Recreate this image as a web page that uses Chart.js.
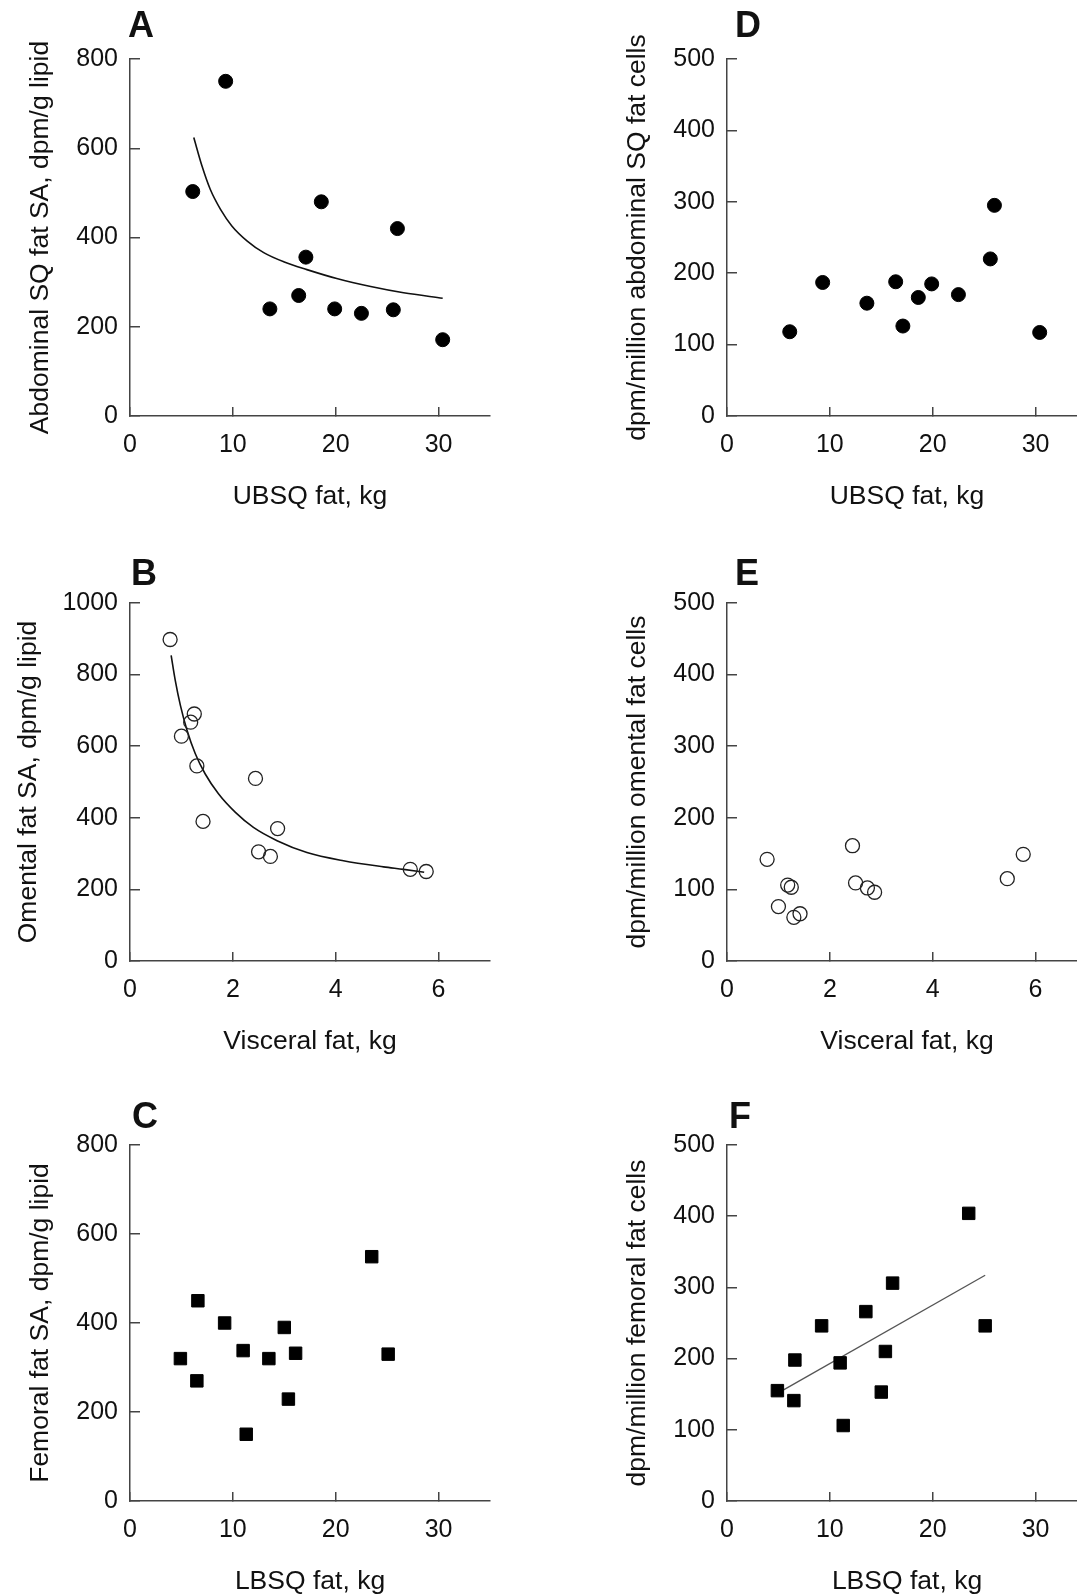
<!DOCTYPE html>
<html>
<head>
<meta charset="utf-8">
<title>Fat specific activity vs depot mass</title>
<script src="https://cdn.jsdelivr.net/npm/chart.js@4.4.1/dist/chart.umd.min.js"></script>
<style>
  html, body { margin: 0; padding: 0; background: #fff; overflow: hidden; }
  #fig { position: relative; width: 1077px; height: 1595px; overflow: hidden; }
  #fig canvas { position: absolute; }
  .letter {
    position: absolute;
    font: bold 36px "Liberation Sans", Arial, sans-serif;
    line-height: 36px;
    color: #111;
  }
</style>
</head>
<body>
<div id="fig"></div>
<script>
(function() {
    'use strict';

    // upper body SQ fat (A, D)
    var ubsqFat = [6.1, 9.3, 13.6, 16.4, 17.1, 18.6, 19.9, 22.5, 25.6, 26.0, 30.4];
    var abdominalSA = [503, 750, 240, 270, 356, 480, 240, 230, 238, 420, 171];
    var abdominalCells = [118, 187, 158, 188, 126, 166, 185, 170, 220, 295, 117];
    var abdominalFitX = [6.2, 7.0, 7.8, 8.8, 9.9, 11.4, 13.0, 15.0, 17.2, 20.1, 23.4, 26.6, 30.4];
    var abdominalFitY = [624, 560, 508, 463, 426, 392, 366, 345, 328, 308, 290, 276, 264];

    // visceral fat (B, E)
    var visceralFat = [0.78, 1.0, 1.18, 1.25, 1.3, 1.42, 2.44, 2.5, 2.73, 2.87, 5.45, 5.76];
    var omentalSA = [898, 628, 667, 690, 545, 390, 510, 305, 292, 370, 256, 250];
    var omentalCells = [142, 76, 106, 103, 61, 66, 161, 109, 102, 96, 115, 149];
    var omentalFitX = [0.8, 0.88, 0.98, 1.11, 1.27, 1.46, 1.72, 2.05, 2.4, 2.86, 3.44, 4.15, 4.93, 5.32, 5.72];
    var omentalFitY = [854, 784, 714, 644, 579, 523, 467, 415, 373, 336, 303, 280, 263, 256, 248];

    // lower body SQ fat (C, F)
    var lbsqFat = [4.9, 6.5, 6.6, 9.2, 11.0, 11.3, 13.5, 15.0, 15.4, 16.1, 23.5, 25.1];
    var femoralSA = [320, 270, 450, 400, 338, 150, 320, 390, 229, 332, 549, 330];
    var femoralCells = [155, 141, 198, 246, 194, 106, 266, 153, 210, 306, 404, 246];
    var femoralFitX = [5.5, 25.1];
    var femoralFitY = [156, 317];

    var INK = '#111';
    var AXIS = '#444';
    var FONT = '"Liberation Sans", Arial, sans-serif';

    // right column runs past the page edge, like the cropped original
    var columns = [
        { left: 0, width: 540, axisWidth: 130, padRight: 50 },
        { left: 540, width: 562, axisWidth: 187, padRight: 15 }
    ];

    var markers = {
        filled: { pointStyle: 'circle', pointRadius: 7, backgroundColor: '#000', borderColor: '#000', borderWidth: 1 },
        open: { pointStyle: 'circle', pointRadius: 7, backgroundColor: 'rgba(0,0,0,0)', borderColor: '#222', borderWidth: 1.3 },
        square: { pointStyle: 'rect', pointRadius: 8.8, backgroundColor: '#000', borderColor: '#000', borderWidth: 1 }
    };

    var panels = [
        { letter: 'A', col: 0, top: 59, bottom: 415.5, letterLeft: 128, letterTop: 7,
          xs: ubsqFat, ys: abdominalSA, fitX: abdominalFitX, fitY: abdominalFitY, fitStyle: 'curve',
          xMax: 35, xStep: 10, yMax: 800, yStep: 200, marker: 'filled', titlePad: 25,
          xTitle: 'UBSQ fat, kg', yTitle: 'Abdominal SQ fat SA, dpm/g lipid' },
        { letter: 'B', col: 0, top: 603, bottom: 960.5, letterLeft: 131, letterTop: 555,
          xs: visceralFat, ys: omentalSA, fitX: omentalFitX, fitY: omentalFitY, fitStyle: 'curve',
          xMax: 7, xStep: 2, yMax: 1000, yStep: 200, marker: 'open', titlePad: 13,
          xTitle: 'Visceral fat, kg', yTitle: 'Omental fat SA, dpm/g lipid' },
        { letter: 'C', col: 0, top: 1145, bottom: 1501, letterLeft: 132, letterTop: 1098,
          xs: lbsqFat, ys: femoralSA, fitX: null, fitY: null,
          xMax: 35, xStep: 10, yMax: 800, yStep: 200, marker: 'square', titlePad: 25,
          xTitle: 'LBSQ fat, kg', yTitle: 'Femoral fat SA, dpm/g lipid' },
        { letter: 'D', col: 1, top: 59, bottom: 415.5, letterLeft: 735, letterTop: 7,
          xs: ubsqFat, ys: abdominalCells, fitX: null, fitY: null,
          xMax: 35, xStep: 10, yMax: 500, yStep: 100, marker: 'filled', titlePad: 82,
          xTitle: 'UBSQ fat, kg', yTitle: 'dpm/million abdominal SQ fat cells' },
        { letter: 'E', col: 1, top: 603, bottom: 960.5, letterLeft: 735, letterTop: 555,
          xs: visceralFat, ys: omentalCells, fitX: null, fitY: null,
          xMax: 7, xStep: 2, yMax: 500, yStep: 100, marker: 'open', titlePad: 82,
          xTitle: 'Visceral fat, kg', yTitle: 'dpm/million omental fat cells' },
        { letter: 'F', col: 1, top: 1145, bottom: 1501, letterLeft: 729, letterTop: 1098,
          xs: lbsqFat, ys: femoralCells, fitX: femoralFitX, fitY: femoralFitY, fitStyle: 'straight',
          xMax: 35, xStep: 10, yMax: 500, yStep: 100, marker: 'square', titlePad: 82,
          xTitle: 'LBSQ fat, kg', yTitle: 'dpm/million femoral fat cells' }
    ];

    Chart.defaults.font.family = FONT;
    Chart.defaults.color = INK;

    var fig = document.getElementById('fig');
    panels.forEach(drawPanel);

    function pairs(xs, ys) {
        return xs.map(function(x, i) {
            return { x: x, y: ys[i] };
        });
    }

    function plain(value) {
        return String(value);
    }

    function drawPanel(p) {
        var col = columns[p.col];
        var padTop = 60;
        var xAxisHeight = 100;
        var canvasTop = p.top - padTop;
        var height = Math.round(p.bottom - p.top) + padTop + xAxisHeight;

        var canvas = document.createElement('canvas');
        canvas.width = col.width;
        canvas.height = height;
        canvas.style.left = col.left + 'px';
        canvas.style.top = canvasTop + 'px';
        canvas.style.width = col.width + 'px';
        canvas.style.height = height + 'px';
        fig.appendChild(canvas);

        var label = document.createElement('div');
        label.className = 'letter';
        label.textContent = p.letter;
        label.style.left = p.letterLeft + 'px';
        label.style.top = p.letterTop + 'px';
        fig.appendChild(label);

        var m = markers[p.marker];
        var datasets = [{
            data: pairs(p.xs, p.ys),
            pointStyle: m.pointStyle,
            pointRadius: m.pointRadius,
            pointBackgroundColor: m.backgroundColor,
            pointBorderColor: m.borderColor,
            pointBorderWidth: m.borderWidth,
            showLine: false
        }];

        if (p.fitX) {
            var curve = p.fitStyle === 'curve';
            datasets.push({
                data: pairs(p.fitX, p.fitY),
                showLine: true,
                pointRadius: 0,
                borderColor: curve ? INK : '#555',
                borderWidth: curve ? 1.6 : 1.3,
                tension: curve ? 0.4 : 0,
                cubicInterpolationMode: curve ? 'monotone' : 'default',
                fill: false
            });
        }

        new Chart(canvas, {
            type: 'scatter',
            data: { datasets: datasets },
            options: {
                responsive: false,
                animation: false,
                devicePixelRatio: 1,
                layout: {
                    padding: { top: padTop, right: col.padRight, bottom: 0, left: 0 }
                },
                plugins: {
                    legend: { display: false },
                    tooltip: { enabled: false }
                },
                scales: {
                    x: {
                        type: 'linear',
                        min: 0,
                        max: p.xMax,
                        afterFit: function(s) { s.height = xAxisHeight; },
                        border: { display: true, color: AXIS, width: 1.5 },
                        grid: { display: true, drawOnChartArea: false, drawTicks: true, tickLength: -9, color: AXIS, lineWidth: 1.5 },
                        ticks: { stepSize: p.xStep, includeBounds: false, padding: 23, color: INK, font: { size: 25 }, callback: plain },
                        title: { display: true, text: p.xTitle, color: INK, font: { size: 26.5 }, padding: { top: 0, bottom: 3 } }
                    },
                    y: {
                        type: 'linear',
                        min: 0,
                        max: p.yMax,
                        afterFit: function(s) { s.width = col.axisWidth; },
                        border: { display: true, color: AXIS, width: 1.5 },
                        grid: { display: true, drawOnChartArea: false, drawTicks: true, tickLength: -10, color: AXIS, lineWidth: 1.5 },
                        ticks: { stepSize: p.yStep, includeBounds: false, padding: 22, color: INK, font: { size: 25 }, callback: plain },
                        title: { display: true, text: p.yTitle, color: INK, font: { size: 26.5 }, padding: { top: p.titlePad, bottom: 0 } }
                    }
                }
            }
        });
    }
})();
</script>
</body>
</html>
